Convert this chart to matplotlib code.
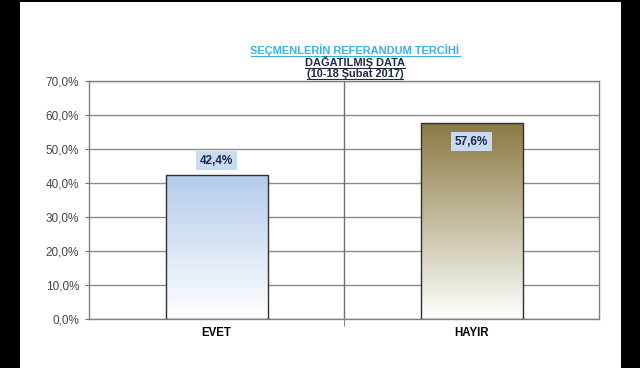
import numpy as np
import matplotlib.pyplot as plt
from matplotlib.patches import Rectangle
from matplotlib.lines import Line2D
from matplotlib.colors import LinearSegmentedColormap

plt.rcParams['font.family'] = ['Liberation Sans', 'DejaVu Sans']

categories = ["EVET", "HAYIR"]
values = [42.4, 57.6]
top_colors = ["#b4cbec", "#8a7a42"]
label_offsets = [4.1, -5.5]
yticks = [0, 10, 20, 30, 40, 50, 60, 70]
title_lines = ["SEÇMENLERİN REFERANDUM TERCİHİ", "DAĞATILMIŞ DATA", "(10-18 Şubat 2017)"]
title_colors = ["#3cb2e0", "#1c2a4a", "#1c2a4a"]


def pct(v):
    return f"{v:.1f}".replace(".", ",") + "%"


fig = plt.figure(figsize=(6.4, 3.68), dpi=100, facecolor="black")
# white page area inside the black frame
fig.patches.append(Rectangle((20 / 640, 0), 601 / 640, 366 / 368, transform=fig.transFigure,
                             facecolor="white", edgecolor="none", zorder=-5))

ax = fig.add_axes([89 / 640, 49 / 368, 510 / 640, 238 / 368])
ax.set_facecolor("none")
ax.set_xlim(-0.5, 1.5)
ax.set_ylim(0, 70)

ax.set_yticks(yticks)
ax.set_yticklabels([pct(t) for t in yticks])
ax.yaxis.grid(True, color="#8c8c8c", linewidth=1.0)
ax.set_axisbelow(True)
ax.tick_params(axis="y", length=3, color="#707070", labelsize=8.5, labelcolor="#454545", pad=4)

x = np.arange(len(categories))
ax.set_xticks(x)
ax.set_xticklabels(categories, fontweight="bold", fontsize=8.3)
ax.tick_params(axis="x", which="major", length=0, pad=6)
ax.set_xticks([0.5], minor=True)
ax.tick_params(axis="x", which="minor", length=5, color="#707070")
ax.axvline(0.5, color="#707070", linewidth=1.0, zorder=1)

for s in ax.spines.values():
    s.set_color("#808080")
    s.set_linewidth(1.0)

bars = ax.bar(x, values, width=0.4, facecolor="none", edgecolor="#303030", linewidth=1.0, zorder=3)
grad = np.linspace(0, 1, 256).reshape(-1, 1)
for b, c, v, off in zip(bars, top_colors, values, label_offsets):
    cmap = LinearSegmentedColormap.from_list("g", ["white", c])
    im = ax.imshow(grad, cmap=cmap, origin="lower", aspect="auto", zorder=2,
                   extent=(b.get_x(), b.get_x() + b.get_width(), 0, b.get_height()))
    im.set_clip_path(b)
    ax.text(b.get_x() + b.get_width() / 2, v + off, pct(v), ha="center", va="center",
            fontsize=8.5, fontweight="bold", color="#1c2a4a", zorder=4,
            bbox=dict(boxstyle="square,pad=0.3", facecolor="#c9dbf0", edgecolor="none"))

ax.set_xlim(-0.5, 1.5)
ax.set_ylim(0, 70)

# title, three underlined lines (baseline positions in pixels from top)
title_base = [54, 66, 77]
texts = []
for line, col, yy in zip(title_lines, title_colors, title_base):
    t = fig.text(355 / 640, 1 - yy / 368, line, ha="center", va="baseline", fontsize=7.9,
                 fontweight="bold", color=col)
    texts.append((t, col, yy))

fig.canvas.draw()
r = fig.canvas.get_renderer()
for t, col, yy in texts:
    bb = t.get_window_extent(r)
    yline = 1 - (yy + 1.5) / 368
    fig.add_artist(Line2D([bb.x0 / fig.bbox.width, bb.x1 / fig.bbox.width], [yline, yline],
                          transform=fig.transFigure, color=col, linewidth=0.8))

fig.savefig("out.png", dpi=100, facecolor="black")
